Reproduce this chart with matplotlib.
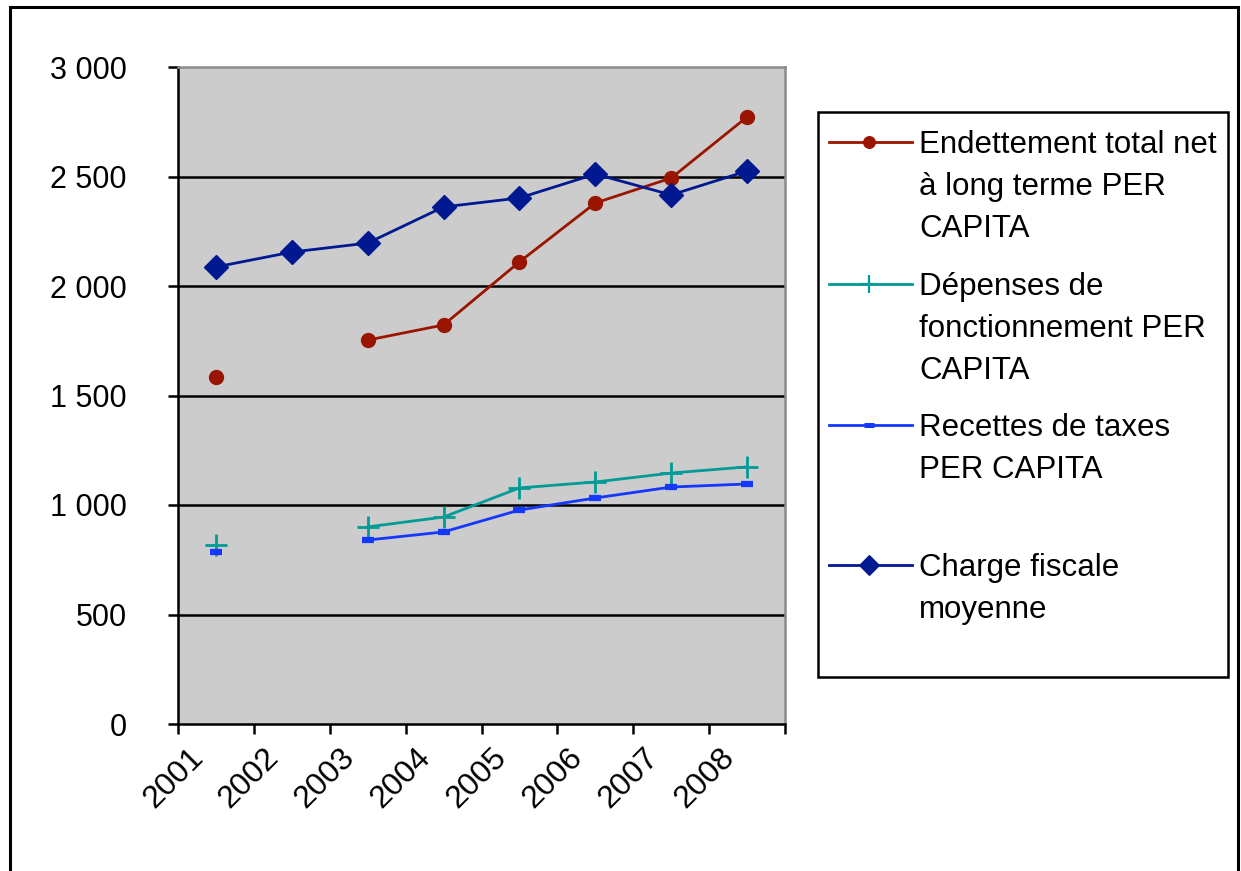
import numpy as np
import matplotlib.pyplot as plt
import matplotlib.transforms as mtransforms
from matplotlib.patches import Rectangle
from matplotlib.lines import Line2D

plt.rcParams['font.family'] = ['Liberation Sans', 'DejaVu Sans']

# ---- data ----
years = ["2001", "2002", "2003", "2004", "2005", "2006", "2007", "2008"]
endettement = [1584, np.nan, 1753, 1822, 2110, 2379, 2493, 2772]
depenses = [817, np.nan, 900, 945, 1078, 1105, 1146, 1174]
recettes = [785, np.nan, 840, 877, 977, 1032, 1082, 1096]
charge = [2087, 2155, 2196, 2361, 2402, 2511, 2416, 2525]

legend_lines = [
    ["Endettement total net", "à long terme PER", "CAPITA"],
    ["Dépenses de", "fonctionnement PER", "CAPITA"],
    ["Recettes de taxes", "PER CAPITA"],
    ["Charge fiscale", "moyenne"],
]

C_END = "#9a1500"
C_DEP = "#009b96"
C_REC = "#1438ff"
C_CHA = "#001990"

W, H = 1241, 871
fig = plt.figure(figsize=(W / 100, H / 100), dpi=100)
ax = fig.add_axes([178 / W, 1 - 724 / H, (785 - 178) / W, (724 - 67) / H])
ax.set_facecolor("#cccccc")

x = np.arange(len(years)) + 0.5
styles = [
    (endettement, C_END, dict(marker="o", markersize=10)),
    (depenses, C_DEP, dict(marker="+", markersize=16, markeredgewidth=2)),
    (recettes, C_REC, dict(marker="_", markersize=9, markeredgewidth=4.5)),
    (charge, C_CHA, dict(marker="D", markersize=12)),
]
handles = []
for vals, col, mk in styles:
    h, = ax.plot(x, vals, color=col, lw=2, markerfacecolor=col, markeredgecolor=col,
                 zorder=3, **mk)
    handles.append(h)

ax.set_xlim(0, len(years))
ax.set_ylim(0, 3000)
ax.set_yticks(np.arange(0, 3001, 500))
ax.set_yticklabels([f"{v:,}".replace(",", " ") for v in range(0, 3001, 500)])
ax.set_xticks(np.arange(len(years) + 1))
ax.set_xticklabels(years + [""])

for v in range(500, 3000, 500):
    ax.axhline(v, color="black", lw=1.8, zorder=1)

for s in ["left", "bottom"]:
    ax.spines[s].set_color("black")
    ax.spines[s].set_linewidth(1.8)
for s in ["top", "right"]:
    ax.spines[s].set_color("#8a8a8a")
    ax.spines[s].set_linewidth(1.8)

ax.tick_params(axis="y", length=7, width=1.8, pad=30, labelsize=22)
ax.tick_params(axis="x", length=7, width=1.8, pad=6, labelsize=23)
offset = mtransforms.ScaledTranslation(0.10, 0, fig.dpi_scale_trans)
for lab in ax.get_xticklabels():
    lab.set_rotation(45)
    lab.set_ha("right")
    lab.set_va("top")
    lab.set_rotation_mode("anchor")
    lab.set_transform(lab.get_transform() + offset)

# ---- legend drawn by hand (marker on first text line, Excel style) ----
fx = lambda px: px / W
fy = lambda py: 1 - py / H
fig.add_artist(Rectangle((fx(818), fy(677)), fx(1228) - fx(818), fy(112) - fy(677),
                         transform=fig.transFigure, fill=False, ec="black", lw=1.8))
first_line_y = [142, 284, 425, 565]
line_gap = 42
for h, lines, y0 in zip(handles, legend_lines, first_line_y):
    fig.add_artist(Line2D([fx(829), fx(912)], [fy(y0), fy(y0)], transform=fig.transFigure,
                          color=h.get_color(), lw=2))
    fig.add_artist(Line2D([fx(869)], [fy(y0)], transform=fig.transFigure,
                          marker=h.get_marker(), markersize=h.get_markersize() * 0.85,
                          markeredgewidth=h.get_markeredgewidth() * 0.8,
                          color=h.get_color(), markerfacecolor=h.get_color(),
                          markeredgecolor=h.get_color(), lw=0))
    for k, t in enumerate(lines):
        fig.text(fx(919), fy(y0 + k * line_gap + 11), t, fontsize=22.5, va="baseline",
                 ha="left", clip_on=False)

# outer chart border (open at bottom)
fig.add_artist(Rectangle((fx(10), -0.05), fx(1238) - fx(10), fy(7) + 0.05,
                         transform=fig.transFigure, fill=False, ec="black", lw=2.2))

fig.savefig("out.png", dpi=100)
